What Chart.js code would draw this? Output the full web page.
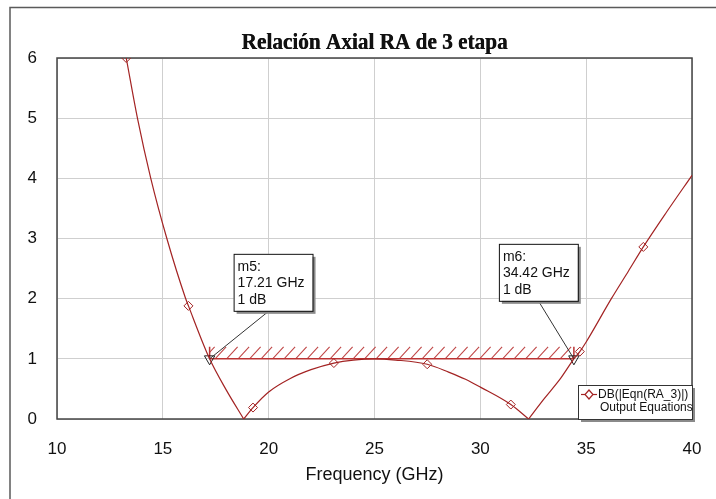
<!DOCTYPE html>
<html>
<head>
<meta charset="utf-8">
<script src="https://cdn.jsdelivr.net/npm/chart.js@4.4.0/dist/chart.umd.min.js"></script>
<style>
  html, body { margin: 0; padding: 0; background: #fff; }
</style>
</head>
<body>
<canvas id="raChart" width="716" height="499"></canvas>
<script>
// Traza DB(|Eqn(RA_3)|)
const freq = [13.0, 13.27, 13.8, 14.43, 15.19, 16.06, 16.21, 17.21, 18.0, 18.82, 19.26, 20.0, 21.0, 22.0, 23.08, 24.0, 25.0, 26.0, 27.49, 28.5, 29.3, 30.0, 31.44, 32.28, 33.0, 33.8, 34.42, 34.7, 35.0, 36.19, 37.0, 37.7, 38.8, 40.0];
const ra   = [6.5, 6.0, 5.0, 4.0, 3.0, 2.02, 1.88, 1.0, 0.48, 0.0, 0.19, 0.45, 0.67, 0.82, 0.93, 0.98, 1.0, 0.98, 0.91, 0.78, 0.66, 0.53, 0.24, 0.0, 0.33, 0.68, 1.0, 1.12, 1.28, 2.0, 2.46, 2.86, 3.44, 4.05];

// simbolos (rombos) sobre la traza
const symFreq = [13.27, 16.21, 19.26, 23.08, 27.49, 31.44, 34.7, 37.7];
const symRa   = [6.0, 1.88, 0.19, 0.93, 0.91, 0.24, 1.12, 2.86];

// marcadores m5 / m6
const mkNames = ['m5', 'm6'];
const mkFreq  = [17.21, 34.42];
const mkDb    = [1, 1];

const xTicks = [10, 15, 20, 25, 30, 35, 40];
const yTicks = [0, 1, 2, 3, 4, 5, 6];

const sans = '"Liberation Sans", Arial, sans-serif';
const traceColor = '#a32323';

// posicion de las cajas de marcadores respecto al marcador (px)
const boxOffset = [[24, -105], [-75, -115]];
const leaderAt = [0.45, 0.5];

// la traza se corta en los nulos (0 dB) para que los picos en V queden agudos
const segments = [];
let start = 0;
ra.forEach((v, i) => {
  if (v === 0 && i > start) {
    segments.push(freq.slice(start, i + 1).map((f, k) => ({ x: f, y: ra[start + k] })));
    start = i;
  }
});
segments.push(freq.slice(start).map((f, k) => ({ x: f, y: ra[start + k] })));

const extras = {
  id: 'extras',
  beforeDraw(chart) {
    const c = chart.ctx, a = chart.chartArea;
    c.save();
    // marco exterior
    c.strokeStyle = '#5a5a5a';
    c.lineWidth = 1.5;
    c.beginPath();
    c.moveTo(10, 499); c.lineTo(10, 7.5); c.lineTo(716, 7.5);
    c.stroke();
    // titulo
    c.font = 'bold 23px "Liberation Serif", "Times New Roman", serif';
    c.fillStyle = '#111';
    c.textAlign = 'center';
    c.textBaseline = 'alphabetic';
    const t = 'Relación Axial RA de 3 etapa';
    const sx = 266 / c.measureText(t).width;
    c.translate((a.left + a.right) / 2, 48.5);
    c.scale(sx, 1);
    c.fillText(t, 0, 0);
    c.fillText(t, 0.4, 0);
    c.restore();
  },
  beforeDatasetsDraw(chart) {
    const c = chart.ctx, a = chart.chartArea;
    const xs = chart.scales.x, ys = chart.scales.y;
    c.save();
    // marco del area de trazado
    c.strokeStyle = '#444';
    c.lineWidth = 1.5;
    c.strokeRect(a.left, a.top, a.right - a.left, a.bottom - a.top);
    // banda rayada entre m5 y m6
    const x1 = xs.getPixelForValue(mkFreq[0]);
    const x2 = xs.getPixelForValue(mkFreq[1]);
    const y = ys.getPixelForValue(mkDb[0]);
    c.beginPath();
    c.rect(x1, y - 14, x2 - x1, 14);
    c.clip();
    c.strokeStyle = '#c04848';
    c.lineWidth = 1.1;
    c.beginPath();
    for (let x = x1 - 6; x < x2; x += 11.5) {
      c.moveTo(x, y); c.lineTo(x + 11, y - 12);
    }
    c.stroke();
    c.restore();
    c.save();
    c.strokeStyle = '#b33';
    c.lineWidth = 1.5;
    c.beginPath();
    c.moveTo(x1, y); c.lineTo(x2, y);
    c.moveTo(x1, y); c.lineTo(x1, y - 12);
    c.moveTo(x2, y); c.lineTo(x2, y - 12);
    c.stroke();
    c.restore();
  },
  afterDatasetsDraw(chart) {
    const c = chart.ctx, a = chart.chartArea;
    const xs = chart.scales.x, ys = chart.scales.y;
    c.save();
    c.font = '14px ' + sans;
    c.textBaseline = 'alphabetic';
    c.textAlign = 'left';
    mkNames.forEach((name, i) => {
      const px = xs.getPixelForValue(mkFreq[i]);
      const py = ys.getPixelForValue(mkDb[i]);
      const lines = [name + ':', mkFreq[i].toFixed(2) + ' GHz', mkDb[i] + ' dB'];
      const w = Math.max(...lines.map(s => c.measureText(s).width)) + 12;
      const h = 57;
      const bx = px + boxOffset[i][0], by = py + boxOffset[i][1];
      // linea guia
      c.strokeStyle = '#333';
      c.lineWidth = 1;
      c.beginPath();
      c.moveTo(bx + w * leaderAt[i], by + h);
      c.lineTo(px, py);
      c.stroke();
      // caja
      c.fillStyle = '#8a8a8a';
      c.fillRect(bx + 3, by + 3, w, h);
      c.fillStyle = '#fff';
      c.fillRect(bx, by, w, h);
      c.strokeStyle = '#111';
      c.strokeRect(bx + 0.5, by + 0.5, w, h);
      c.fillStyle = '#111';
      lines.forEach((s, k) => c.fillText(s, bx + 4, by + 17 + k * 16.5));
    });
    // leyenda
    const lw = 114, lh = 34;
    const lx = a.right - lw, ly = a.bottom - lh;
    c.fillStyle = '#8a8a8a';
    c.fillRect(lx + 3, ly + 3, lw, lh);
    c.fillStyle = '#fff';
    c.fillRect(lx, ly, lw, lh);
    c.strokeStyle = '#333';
    c.strokeRect(lx + 0.5, ly + 0.5, lw, lh);
    c.strokeStyle = traceColor;
    c.lineWidth = 1.2;
    c.beginPath();
    c.moveTo(lx + 3, ly + 9.5); c.lineTo(lx + 19, ly + 9.5);
    c.stroke();
    c.fillStyle = '#fff';
    c.beginPath();
    c.moveTo(lx + 11, ly + 5); c.lineTo(lx + 15, ly + 9.5);
    c.lineTo(lx + 11, ly + 14); c.lineTo(lx + 7, ly + 9.5);
    c.closePath();
    c.fill(); c.stroke();
    c.font = '12px ' + sans;
    c.fillStyle = '#111';
    c.textBaseline = 'middle';
    c.fillText('DB(|Eqn(RA_3)|)', lx + 20, ly + 10);
    c.fillText('Output Equations', lx + 22, ly + 23);
    c.restore();
  }
};

const traceSets = segments.map(seg => ({
  label: 'DB(|Eqn(RA_3)|)',
  data: seg,
  showLine: true,
  borderColor: traceColor,
  borderWidth: 1.2,
  pointRadius: 0,
  cubicInterpolationMode: 'monotone'
}));

const ctx = document.getElementById('raChart').getContext('2d');

new Chart(ctx, {
  type: 'scatter',
  data: {
    datasets: [
      ...traceSets,
      {
        label: 'simbolos',
        data: symFreq.map((f, i) => ({ x: f, y: symRa[i] })),
        showLine: false,
        pointStyle: 'rectRot',
        pointRadius: 4.5,
        borderWidth: 1,
        borderColor: traceColor,
        backgroundColor: 'rgba(255,255,255,0)'
      },
      {
        label: 'marcadores',
        data: mkFreq.map((f, i) => ({ x: f, y: mkDb[i] })),
        showLine: false,
        pointStyle: 'triangle',
        rotation: 180,
        pointRadius: 6,
        borderWidth: 1,
        borderColor: '#222',
        backgroundColor: 'rgba(255,255,255,0)'
      }
    ]
  },
  options: {
    responsive: false,
    animation: false,
    events: [],
    layout: { padding: { left: 0, right: 24, top: 58, bottom: 0 } },
    plugins: {
      legend: { display: false },
      tooltip: { enabled: false },
      title: { display: false }
    },
    scales: {
      x: {
        type: 'linear',
        min: 10,
        max: 40,
        afterBuildTicks: s => { s.ticks = xTicks.map(v => ({ value: v })); },
        afterFit: s => { s.height = 80; s.paddingLeft = 0; s.paddingRight = 0; },
        grid: { color: '#cfcfcf', drawTicks: false },
        border: { display: false },
        ticks: { padding: 20, color: '#111', font: { family: sans, size: 17 } },
        title: {
          display: true,
          text: 'Frequency (GHz)',
          color: '#111',
          font: { family: sans, size: 18 },
          padding: { top: 0, bottom: 13 }
        }
      },
      y: {
        type: 'linear',
        min: 0,
        max: 6,
        afterBuildTicks: s => { s.ticks = yTicks.map(v => ({ value: v })); },
        afterFit: s => { s.width = 57; s.paddingTop = 0; s.paddingBottom = 0; },
        grid: { color: '#cfcfcf', drawTicks: false },
        border: { display: false },
        ticks: { padding: 20, color: '#111', font: { family: sans, size: 17 } }
      }
    }
  },
  plugins: [extras]
});
</script>
</body>
</html>
